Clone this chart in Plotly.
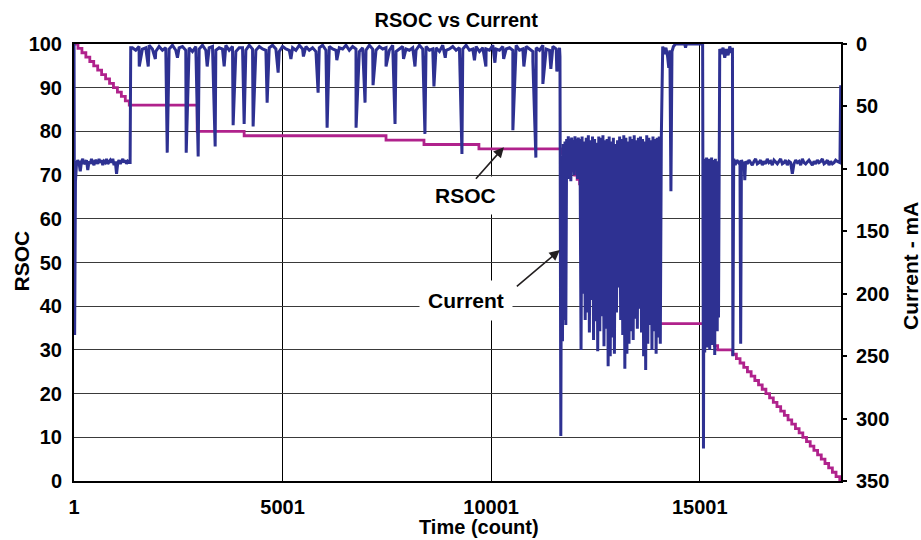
import plotly.graph_objects as go

# ---------------- data ----------------
# RSOC (%) step changes: time (count) at which each new value starts
rsoc_time = [1, 95, 190, 284, 379, 473, 568, 662, 757, 852, 946, 1041, 1135, 1230, 1325,
             2953, 4079, 7480, 8390, 9707,
             11705, 11765, 11824, 11884, 11943, 12002, 12062, 12121, 12181, 12240,
             12299, 12359, 12418, 12478, 12537, 12596, 12656, 12715, 12775, 12834,
             12894, 12953, 13012, 13072, 13131, 13190, 13250, 13309, 13369, 13428,
             13487, 13547, 13606, 13666, 13725, 13784, 13844, 13903, 13963, 14022,
             15190, 15230, 15270, 15310, 15350, 15430,
             15790, 15879, 15967, 16056, 16144, 16233, 16321, 16410, 16498, 16587,
             16675, 16764, 16852, 16941, 17029, 17118, 17206, 17295, 17383, 17472,
             17560, 17649, 17737, 17826, 17914, 18003, 18091, 18180, 18268, 18357, 18387]
rsoc_pct = [100, 99, 98, 97, 96, 95, 94, 93, 92, 91, 90, 89, 88, 87, 86,
            80, 79, 78, 77, 76,
            75, 74, 73, 72, 71, 70, 69, 68, 67, 66,
            65, 64, 63, 62, 61, 60, 59, 58, 57, 56,
            55, 54, 53, 52, 51, 50, 49, 48, 47, 46,
            45, 44, 43, 42, 41, 40, 39, 38, 37, 36,
            35, 34, 33, 32, 31, 30,
            29, 28, 27, 26, 25, 24, 23, 22, 21, 20,
            19, 18, 17, 16, 15, 14, 13, 12, 11, 10,
            9, 8, 7, 6, 5, 4, 3, 2, 1, 0, 0]

# Current (mA) -- start-up transient
start_t = [1, 15, 35, 55]
start_ma = [0, 233, 110, 96]

# first load period (sampled every 30 counts from t=60)
load_a_t0, load_a_dt = 60, 30
load_a_ma = [96, 93, 95, 102, 94, 92, 96, 95, 93, 101, 94, 96, 92, 95, 97, 93, 94, 96, 92, 95,
             93, 97, 94, 95, 92, 96, 94, 93, 95, 92, 97, 94, 104, 95, 93, 96, 94, 92, 95, 93,
             96, 94, 95]
step_a_t = [1345, 1360]
step_a_ma = [95, 3]

# idle period (sampled every 80 counts from t=1400)
idle_b_t0, idle_b_dt = 1400, 80
idle_b_ma = [3, 5, 2, 4, 3, 1, 4, 6, 2, 5, 3, 4, 1, 5, 3, 2, 5, 3, 6, 2,
             4, 1, 5, 3, 2, 5, 3, 4, 1, 5, 2, 6, 3, 3, 5, 1, 4, 5, 2, 4,
             5, 3, 1, 4, 6, 2, 4, 5, 3, 5, 1, 4, 2, 5, 3, 6, 3, 1, 5, 2,
             4, 5, 3, 4, 1, 5, 2, 4, 6, 3, 5, 1, 4, 5, 2, 4, 3, 5, 1, 6,
             4, 2, 4, 5, 3, 5, 1, 4, 2, 5, 4, 3, 6, 1, 5, 4, 2, 5, 3, 4,
             1, 5, 4, 2, 6, 3, 4, 5, 1, 4, 5, 2, 4, 3, 5, 1, 5, 4, 2, 4,
             6, 3, 5, 1, 4, 5, 2, 4, 3]
# current pulses during idle period
pulse_t = [1564, 1780, 1950, 2235, 2480, 2690, 2977, 3193, 3384, 3600, 3815, 4079, 4294, 4630,
           4894, 5200, 5500, 5852, 6068, 6300, 6762, 6977, 7169, 7480, 7696, 7900, 8174, 8413,
           8629, 8900, 9300, 9600, 9874, 10090, 10300, 10521, 10784, 11000, 11072, 11240,
           11431, 11575]
pulse_ma = [18, 18, 12, 87, 11, 87, 90, 18, 82, 18, 65, 64, 66, 47,
            23, 12, 10, 39, 67, 13, 67, 47, 33, 18, 64, 12, 18, 72,
            34, 11, 88, 13, 18, 15, 12, 69, 18, 14, 91, 32,
            20, 22]

# transition into heavy-load period
trans_c_t = [11650, 11670, 11690, 11710, 11730, 11750, 11770, 11790, 11810, 11830, 11850, 11870,
             11890, 11910, 11930, 11950, 11970, 11990, 12010, 12030, 12050, 12070, 12090, 12110]
trans_c_ma = [10, 314, 90, 238, 80, 221, 78, 225, 76, 95, 74, 108,
              76, 110, 75, 100, 77, 105, 74, 96, 76, 108, 75, 98]

# heavy-load burst (alternating highs/lows, every 25 counts from t=12130)
burst_t0, burst_dt = 12130, 25
burst_high_ma = [76, 74, 78, 75, 73, 77, 74, 76, 79, 74, 75, 73, 77, 76, 74, 78, 75, 80, 77, 74,
                 76, 73, 75, 78, 74, 76, 73, 77, 75, 74, 76, 78, 73, 75, 77, 74, 76, 75, 74]
burst_low_ma = [245, 200, 221, 215, 231, 205, 237, 222, 246, 230, 218, 242, 228, 258, 250, 235,
                248, 215, 195, 221, 233, 260, 248, 240, 230, 237, 220, 228, 212, 231, 250, 261,
                240, 225, 245, 230, 248, 235, 240]

# idle period 2
idle_e_t = [14080, 14113, 14150, 14190, 14230, 14258, 14285, 14310, 14335, 14370, 14420, 14640,
            14660, 14680, 15050]
idle_e_ma = [74, 2, 8, 3, 10, 19, 5, 118, 6, 2, 0, 0, 3, 0, 0]

# short load burst
burst_f_t = [15070, 15090, 15105, 15120, 15135, 15150, 15165, 15180, 15195, 15210, 15225, 15240,
             15255, 15270, 15285, 15300, 15315, 15330, 15345, 15360, 15375, 15390, 15405, 15420,
             15435, 15450, 15465, 15480]
burst_f_ma = [0, 324, 95, 247, 92, 180, 91, 243, 94, 150, 92, 245,
              96, 200, 91, 241, 93, 130, 95, 249, 92, 170, 94, 230,
              96, 219, 100, 4]

# idle period 3
idle_g_t = [15520, 15560, 15600, 15640, 15680, 15720, 15760, 15785]
idle_g_ma = [8, 3, 11, 4, 9, 2, 7, 3]

# final load period
trans_h_t = [15795, 15815, 15850, 15890, 15930, 15965, 15982, 16000, 16040, 16065, 16080]
trans_h_ma = [250, 92, 97, 93, 95, 94, 240, 93, 96, 95, 109]
load_h_t0, load_h_dt = 16100, 40
load_h_ma = [94, 96, 93, 95, 97, 94, 92, 96, 95, 93, 97, 94, 96, 92, 95, 94, 97, 93, 95, 96,
             94, 92, 96, 95, 93, 97, 94, 95, 104, 96, 93, 95, 94, 97, 92, 95, 96, 94, 93, 95,
             97, 94, 96, 93, 95, 94, 92, 96, 95, 93, 97, 94, 96, 95, 93, 94, 95]
end_t = [18362, 18380]
end_ma = [95, 33]

x_ticks = [1, 5001, 10001, 15001]
rsoc_ticks = list(range(0, 101, 10))
current_ticks = list(range(0, 351, 50))

# ---------------- assemble current series ----------------
pairs = []
def add(ts, vs):
    pairs.extend(zip(ts, vs))

def regular(t0, dt, vals):
    return [t0 + dt * i for i in range(len(vals))], vals

add(start_t, start_ma)
add(*regular(load_a_t0, load_a_dt, load_a_ma))
add(step_a_t, step_a_ma)
add(*regular(idle_b_t0, idle_b_dt, idle_b_ma))
add(pulse_t, pulse_ma)
add(trans_c_t, trans_c_ma)
for i, (hi, lo) in enumerate(zip(burst_high_ma, burst_low_ma)):
    pairs.append((burst_t0 + 2 * i * burst_dt, hi))
    pairs.append((burst_t0 + (2 * i + 1) * burst_dt, lo))
add(idle_e_t, idle_e_ma)
add(burst_f_t, burst_f_ma)
add(idle_g_t, idle_g_ma)
add(trans_h_t, trans_h_ma)
add(*regular(load_h_t0, load_h_dt, load_h_ma))
add(end_t, end_ma)
pairs.sort(key=lambda p: p[0])
cur_t = [p[0] for p in pairs]
cur_ma = [p[1] for p in pairs]

# ---------------- figure ----------------
FONT = "Liberation Sans, Arial, sans-serif"
BLUE = "#2E3192"
MAGENTA = "#B0228C"

fig = go.Figure()
fig.add_trace(go.Scatter(x=rsoc_time, y=rsoc_pct, mode="lines", line=dict(color=MAGENTA, width=2.8, shape="hv"),
                         name="RSOC", yaxis="y"))
fig.add_trace(go.Scatter(x=cur_t, y=cur_ma, mode="lines", line=dict(color=BLUE, width=3),
                         name="Current", yaxis="y2"))

tickfont = dict(family=FONT, size=20, color="black", weight="bold")
titlefont = dict(family=FONT, size=21, color="black", weight="bold")

fig.update_layout(
    width=921, height=540,
    margin=dict(l=74, r=80, t=44, b=59),
    paper_bgcolor="white", plot_bgcolor="white",
    showlegend=False,
    title=dict(text="RSOC vs Current", x=459 / 921, xanchor="center", y=1 - 20 / 540, yanchor="middle",
               xref="paper", yref="container", font=dict(family=FONT, size=20, color="black", weight="bold")),
    xaxis=dict(range=[0, 18387], tickvals=x_ticks, ticktext=[str(v) for v in x_ticks],
               showgrid=True, gridcolor="black", gridwidth=1, zeroline=False,
               showline=True, linecolor="black", linewidth=2, mirror=True,
               ticks="", tickfont=tickfont, ticklabelstandoff=7, automargin=False),
    yaxis=dict(range=[0, 100], tickvals=rsoc_ticks, showgrid=True, gridcolor="#3a3a3a", gridwidth=1,
               zeroline=False, showline=True, linecolor="black", linewidth=2,
               ticks="", tickfont=tickfont, ticklabelstandoff=6, automargin=False),
    yaxis2=dict(range=[350, 0], tickvals=current_ticks, overlaying="y", side="right",
                showgrid=False, zeroline=False, showline=True, linecolor="black", linewidth=2,
                ticks="outside", ticklen=4, tickwidth=1.5, tickcolor="black",
                tickfont=tickfont, ticklabelstandoff=5, automargin=False),
)

annotations = [
    dict(text="Time (count)", xref="paper", yref="paper", x=(479 - 74) / 767, y=(481 - 527) / 437,
         xanchor="center", yanchor="middle", showarrow=False, font=dict(family=FONT, size=20, color="black", weight="bold")),
    dict(text="RSOC", xref="paper", yref="paper", x=(20.5 - 74) / 767, y=(481 - 261) / 437,
         xanchor="center", yanchor="middle", textangle=-90, showarrow=False, font=titlefont),
    dict(text="Current - mA", xref="paper", yref="paper", x=(910 - 74) / 767, y=(481 - 266) / 437,
         xanchor="center", yanchor="middle", textangle=-90, showarrow=False, font=titlefont),
    # label texts
    dict(text="RSOC", xref="x", yref="y", x=9396, y=65.4, showarrow=False, font=titlefont,
         bgcolor="white", borderpad=7),
    dict(text="Current", xref="x", yref="y", x=9396, y=41.2, showarrow=False, font=titlefont,
         bgcolor="white", borderpad=8),
    # arrows
    dict(text=" ", xref="x", yref="y", x=10306, y=76.4, ax=-31, ay=35, showarrow=True,
         arrowhead=2, arrowsize=1.3, arrowwidth=1.6, arrowcolor="#231F20"),
    dict(text=" ", xref="x", yref="y2", x=11647, y=165, ax=-46, ay=39, showarrow=True,
         arrowhead=2, arrowsize=1.3, arrowwidth=1.6, arrowcolor="#231F20"),
]
fig.update_layout(annotations=annotations)

fig.write_html("out.html", config={"displayModeBar": False},
               post_script="document.body.style.margin='0';document.body.style.padding='0';")
